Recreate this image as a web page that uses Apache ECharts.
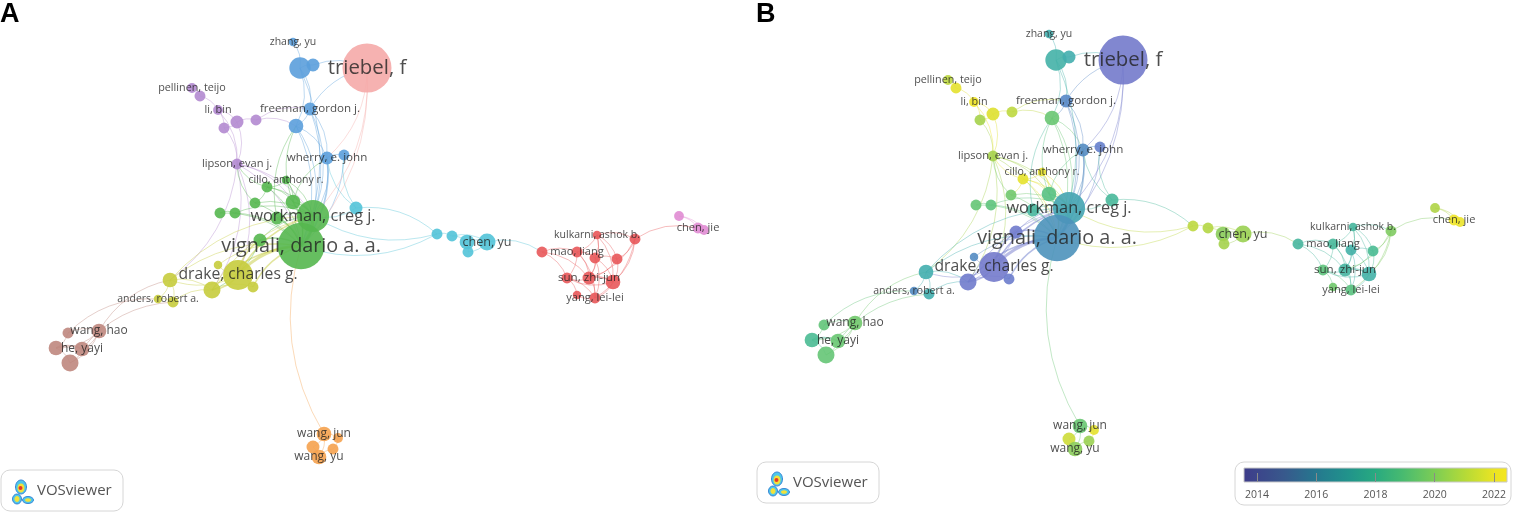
<!DOCTYPE html>
<html><head><meta charset="utf-8">
<script src="https://cdn.jsdelivr.net/npm/echarts@6/dist/echarts.min.js"></script>
<style>html,body{margin:0;padding:0;background:#fff;}#c{width:1517px;height:513px;}</style>
</head><body><div id="c"></div>
<script>
// ---- data (map coordinates, weights = documents, clusters, avg. publication year) ----
const nodeLabels = ['zhang, yu','','','freeman, gordon j.','','wherry, e. john','','','','','','chen, yu','','triebel, f',
 'pellinen, teijo','','li, bin','','','','lipson, evan j.','cillo, anthony r.','','','','','','workman, creg j.','',
 'vignali, dario a. a.','','drake, charles g.','','','','','anders, robert a.','','','wang, hao','','he, yayi','',
 'wang, jun','','','wang, yu','','','kulkarni, ashok b.','','mao, liang','','','sun, zhi-jun','','','yang, lei-lei','',
 '','chen, jie',''];
const nodeX = [-0.07,0.00,0.13,0.10,-0.04,0.27,0.44,0.56,1.37,1.52,1.67,1.87,1.68,0.67,-1.08,-1.00,-0.82,-0.63,-0.76,-0.44,
 -0.63,-0.14,-0.33,-0.07,-0.45,-0.80,-0.65,0.13,-0.23,0.01,-0.40,-0.62,-0.82,-1.30,-0.88,-0.47,-1.42,-1.27,-2.32,-2.01,
 -2.44,-2.18,-2.30,0.24,0.38,0.13,0.19,0.33,2.42,2.97,3.35,2.77,2.95,3.17,2.89,3.13,2.67,2.95,2.77,3.79,3.98,4.04];
const nodeY = [2.08,1.82,1.85,1.41,1.24,0.92,0.95,0.42,0.16,0.14,0.08,0.08,-0.02,1.82,1.62,1.54,1.40,1.28,1.22,1.30,
 0.86,0.70,0.63,0.48,0.47,0.37,0.37,0.34,0.32,0.04,0.10,-0.25,-0.15,-0.30,-0.40,-0.37,-0.49,-0.52,-0.83,-0.81,
 -0.98,-0.99,-1.13,-1.84,-1.88,-1.97,-2.07,-1.99,-0.02,0.15,0.11,-0.02,-0.08,-0.09,-0.28,-0.32,-0.28,-0.48,-0.45,0.34,0.22,0.20];
const nodeWeight = [3,19,7,7,9,7,5,7,5,5,9,12,5,100,4,5,4,7,5,5,5,3,5,9,5,5,5,43,7,91,7,37,3,9,12,5,3,5,5,9,9,9,12,
 9,4,7,9,5,5,3,5,5,5,5,7,9,5,5,3,4,5,4];
const nodeCluster = [3,3,3,3,3,3,3,6,6,6,6,6,6,10,5,5,5,5,5,5,5,2,2,2,2,2,2,2,2,2,2,4,4,4,4,4,4,4,8,8,8,8,8,7,7,7,7,7,
 1,1,1,1,1,1,1,1,1,1,1,9,9,9];
const nodeYear = [2017.0,2017.2,2017.0,2015.3,2018.8,2015.5,2014.8,2017.6,2020.5,2020.3,2019.5,2019.8,2020.0,2014.4,
 2020.5,2021.5,2022.0,2021.3,2020.0,2020.5,2020.0,2021.5,2021.6,2018.3,2019.0,2018.7,2018.5,2016.6,2017.5,2015.8,2014.5,
 2014.4,2015.5,2017.0,2014.5,2014.6,2015.5,2017.0,2018.6,2019.0,2017.8,2018.8,2018.7,2018.8,2021.5,2020.8,2019.5,2019.8,
 2017.5,2017.5,2019.3,2017.6,2017.2,2017.8,2017.4,2017.2,2018.5,2018.4,2019.0,2020.2,2022.0,2021.8];
// links: [source, target, strength] (1-based node numbers)
const links = [
 [1,2,1],[2,3,1],[2,4,1],[2,5,1],[4,5,1],[4,14,1],[4,6,1],[5,6,1],[6,7,1],[6,30,2],[6,28,1],[5,28,1],[5,30,1],[4,30,1],
 [4,28,1],[7,30,1],[2,30,1],[14,30,1],[14,28,1],[14,6,1],[3,14,1],
 [15,16,1],[16,17,1],[17,18,1],[17,19,1],[18,19,1],[18,20,1],[20,4,1],[20,5,1],[18,21,1],[19,21,1],[17,21,1],[21,30,1],
 [21,28,1],[21,24,1],[21,32,1],[21,35,1],[21,34,1],
 [22,23,1],[22,24,1],[23,24,1],[23,25,1],[24,28,2],[24,30,2],[25,28,1],[25,30,1],[26,27,1],[27,28,1],[26,30,1],[28,30,4],
 [29,30,2],[29,28,1],[31,30,2],[31,28,1],[22,28,1],[22,30,1],[23,30,1],[23,28,1],[24,6,1],[25,21,1],[23,21,1],[27,30,1],
 [24,5,1],[29,5,1],
 [8,9,1],[9,10,1],[10,11,1],[10,12,1],[11,12,1],[12,13,1],[11,13,1],[8,28,1],[8,6,1],[9,30,1],[9,28,1],[12,49,1],[8,7,1],
 [32,33,1],[32,34,1],[32,35,2],[32,36,1],[32,30,4],[32,28,2],[33,30,1],[34,35,1],[34,37,1],[34,38,1],[35,36,1],[35,30,2],
 [36,30,2],[37,38,1],[38,35,1],[35,28,1],[34,30,1],[32,31,2],[31,35,1],[34,28,1],
 [39,40,1],[39,41,1],[40,41,1],[40,42,1],[41,42,2],[42,43,1],[41,43,1],[40,43,1],[40,34,1],[39,37,1],[42,38,1],
 [44,45,1],[44,46,1],[44,47,1],[46,47,1],[47,48,1],[45,48,1],[44,30,1],
 [49,52,1],[49,55,1],[50,51,1],[50,52,1],[50,53,1],[50,54,1],[50,55,1],[51,54,1],[51,56,1],[52,53,1],[52,55,1],[52,57,1],
 [53,54,1],[53,55,1],[53,56,1],[54,56,1],[55,56,2],[55,57,1],[55,58,1],[56,58,1],[57,58,1],[57,59,1],[58,59,1],[53,58,1],
 [52,58,1],[54,55,1],[51,55,1],[56,57,1],[50,56,1],[49,57,1],[51,58,1],
 [60,61,1],[61,62,1],[60,62,1],[51,61,1]
];
const yearTicks = [2014, 2016, 2018, 2020, 2022];
const yearRange = [2013.56, 2022.44];

// ---- styles ----
const clusterColors = {1:'#e8585a',2:'#55b74f',3:'#5b9fdc',4:'#c6cc3d',5:'#b38ad0',6:'#52c3d8',7:'#f5a24f',8:'#bf877e',9:'#e08cd3',10:'#f5aaa8'};
const nodeYearStops = [[2013.56,[122,110,198]],[2014,[128,116,202]],[2015,[95,130,205]],[2016,[72,150,182]],[2017,[66,174,174]],
  [2018,[76,190,140]],[2019,[112,200,108]],[2020,[165,210,75]],[2021,[215,222,52]],[2022,[240,228,40]],[2022.44,[246,230,34]]];
const barStops = [[2013.56,[62,60,138]],[2015,[55,90,140]],[2016,[37,120,142]],[2017,[32,145,140]],[2018,[40,170,128]],
  [2019,[75,188,110]],[2020,[125,205,85]],[2021,[180,218,55]],[2022,[235,228,35]],[2022.44,[245,230,30]]];
function interp(stops, y){
  if (y <= stops[0][0]) return stops[0][1];
  for (let i=1;i<stops.length;i++){
    if (y <= stops[i][0]){
      const a=stops[i-1], b=stops[i], t=(y-a[0])/(b[0]-a[0]);
      return a[1].map((v,k)=>Math.round(v+(b[1][k]-v)*t));
    }
  }
  return stops[stops.length-1][1];
}
const rgb = c => 'rgb('+c.join(',')+')';
const FONT = '"Open Sans", "Noto Sans", sans-serif';

function graphSeries(idx, colorOf){
  return {
    type:'graph', coordinateSystem:'cartesian2d', xAxisIndex:idx, yAxisIndex:idx, layout:'none', silent:true,
    z:2, animation:false,
    data: nodeX.map((x,i)=>({name:'n'+i, value:[x,nodeY[i]], symbolSize: 4.9*Math.sqrt(nodeWeight[i]),
      itemStyle:{color:colorOf(i), opacity:0.9}})),
    links: links.map(l=>({source:l[0]-1, target:l[1]-1, lineStyle:{width:0.8*l[2], color:colorOf(l[0]-1)}})),
    lineStyle:{opacity:0.5, curveness:0.22},
    label:{show:false}, emphasis:{disabled:true}
  };
}
function labelSeries(idx){
  const d=[];
  nodeLabels.forEach((t,i)=>{ if(t) d.push({value:[nodeX[i],nodeY[i]], label:{formatter:t, fontSize:+(8.4+1.2*Math.sqrt(nodeWeight[i])).toFixed(1)}}); });
  return {type:'scatter', xAxisIndex:idx, yAxisIndex:idx, symbolSize:0, silent:true, z:5, animation:false,
    label:{show:true, position:'inside', color:'#222', fontFamily:FONT}, data:d};
}
function logo(ox, oy){
  const c=(x,y,r,fill,stroke)=>({type:'circle', shape:{cx:ox+x, cy:oy+y, r:r}, style:{fill:fill, stroke:stroke||null, lineWidth:stroke?1:0}});
  const e=(x,y,rx,ry,fill,stroke)=>({type:'ellipse', shape:{cx:ox+x, cy:oy+y, rx:rx, ry:ry}, style:{fill:fill, stroke:stroke||null, lineWidth:stroke?1:0}});
  return [
    {type:'rect', shape:{x:ox, y:oy, width:122, height:41, r:9}, style:{fill:'#fff', stroke:'#d6d6d6', lineWidth:1}},
    e(20,17,5.5,7,'#4ec7ea','#3a86d6'), e(16,29,4.5,5,'#4ec7ea','#3a86d6'), e(27,30,5.5,3.5,'#4ec7ea','#3a86d6'),
    e(20,18,3.5,4.5,'#f3e13a'), e(16,29,2.5,3,'#f3e13a'), e(27,30,3,1.8,'#f3e13a'), c(19.5,18,2,'#e5372b'),
    {type:'text', x:ox+36, y:oy+21, style:{text:'VOSviewer', font:'15px '+FONT, fill:'#555', textVerticalAlign:'middle'}}
  ];
}

const chart = echarts.init(document.getElementById('c'), null, {renderer:'canvas'});
const hiddenAxis = (gi,min,max)=>({type:'value', gridIndex:gi, min:min, max:max, show:false});
chart.setOption({
  backgroundColor:'#fff', animation:false,
  grid:[{left:0, top:0, width:740, height:513},{left:756, top:0, width:740, height:513},{left:1244, top:468, width:263, height:14}],
  xAxis:[hiddenAxis(0,-3,4.4), hiddenAxis(1,-3,4.4),
    {type:'value', gridIndex:2, z:10, min:yearRange[0], max:yearRange[1], offset:5, axisLine:{show:false}, splitLine:{show:false},
     axisTick:{show:true, inside:true, length:9, customValues:yearTicks, lineStyle:{color:'#8a8a8a', width:1}},
     axisLabel:{customValues:yearTicks, formatter:v=>String(v), fontSize:10.5, color:'#555', margin:3, fontFamily:FONT}}],
  yAxis:[hiddenAxis(0,-2.63,2.5), hiddenAxis(1,-2.71,2.42), hiddenAxis(2,0,1)],
  series:[
    graphSeries(0, i=>clusterColors[nodeCluster[i]]),
    labelSeries(0),
    graphSeries(1, i=>rgb(interp(nodeYearStops,nodeYear[i]))),
    labelSeries(1),
    {type:'custom', xAxisIndex:2, yAxisIndex:2, silent:true, z:1, data:[[yearRange[0],yearRange[1]]],
     renderItem:(params,api)=>{
       const p0=api.coord([api.value(0),1]), p1=api.coord([api.value(1),0]);
       const n=20, stops=[];
       for(let k=0;k<=n;k++){ const y=yearRange[0]+(yearRange[1]-yearRange[0])*k/n; stops.push({offset:k/n, color:rgb(interp(barStops,y))}); }
       return {type:'rect', shape:{x:p0[0], y:p0[1], width:p1[0]-p0[0], height:p1[1]-p0[1]},
         style:{fill:new echarts.graphic.LinearGradient(0,0,1,0,stops), stroke:'#c8c8c8', lineWidth:1}};
     }}
  ],
  graphic:[
    {type:'text', left:0, top:1, style:{text:'A', font:'bold 27px "Liberation Sans", Arial, sans-serif', fill:'#000'}},
    {type:'text', left:756, top:1, style:{text:'B', font:'bold 27px "Liberation Sans", Arial, sans-serif', fill:'#000'}},
    {type:'rect', z:-1, shape:{x:1235, y:462, width:276, height:43, r:9}, style:{fill:'#fff', stroke:'#d6d6d6', lineWidth:1}},
    {type:'group', children: logo(1,470)},
    {type:'group', children: logo(757,462)}
  ]
});
</script></body></html>
